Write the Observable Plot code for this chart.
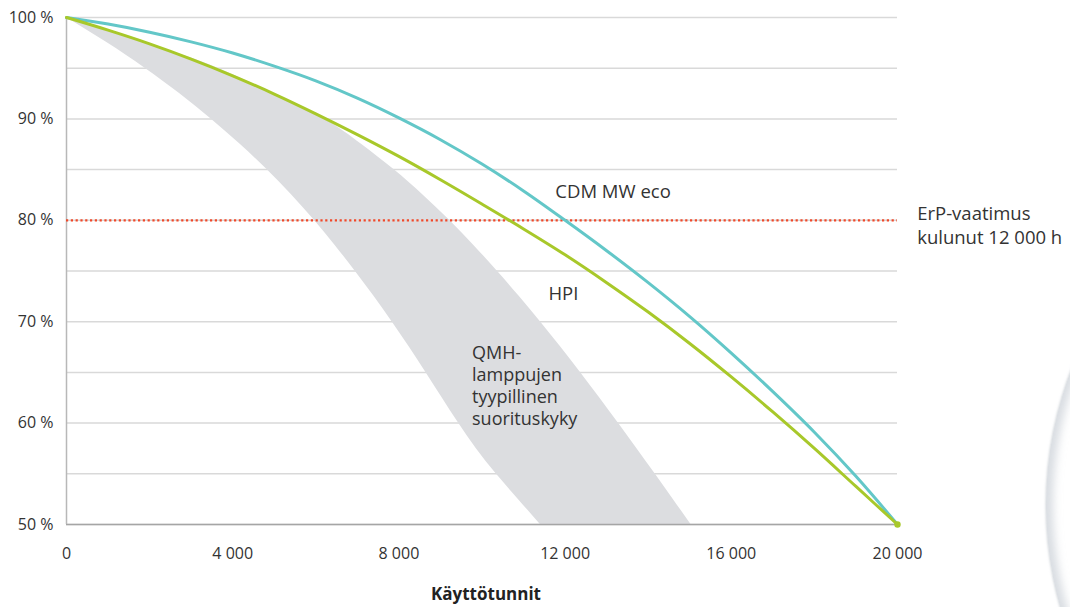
<!DOCTYPE html>
<html><head><meta charset="utf-8">
<script src="https://cdn.jsdelivr.net/npm/d3@7"></script>
<script src="https://cdn.jsdelivr.net/npm/@observablehq/plot@0.6"></script>
<style>
html,body{margin:0;padding:0;background:#fff;}
body{width:1070px;height:607px;overflow:hidden;position:relative;font-family:"Open Sans",sans-serif;}
#lamp{position:absolute;left:1046px;top:130px;width:750px;height:750px;border-radius:50%;background:#fff;
  box-shadow: inset 7px 0 9px rgba(185,193,202,0.55), -1px 0 2px rgba(205,210,215,0.6);}
#chart{position:absolute;left:0;top:0;}
</style></head><body>
<div id="lamp"></div><div id="chart"></div>
<script>
// Operating hours (x) and lumen maintenance (%)
const hours = [0,1000,2000,3000,4000,5000,6000,7000,8000,9000,10000,11000,12000,13000,14000,15000,16000,17000,18000,19000,20000];
const cdmMwEco = [100,99.35,98.55,97.6,96.5,95.2,93.75,92.05,90.1,87.95,85.55,82.9,80.0,77.0,73.85,70.5,66.9,63.1,59.1,54.75,50];
const hpi = [100,98.75,97.4,95.9,94.25,92.45,90.5,88.45,86.3,84.0,81.6,79.15,76.6,73.85,70.95,67.85,64.55,61.1,57.5,53.75,50];

// QMH typical performance band: hours at which each edge reaches a given level
const bandLevels = [100,97.5,95,92.5,90,87.5,85,82.5,80,77.5,75,72.5,70,67.5,65,62.5,60,57.5,55,52.5,50];
const bandLowerHours = [0,980,1890,2720,3480,4180,4825,5420,5965,6470,6945,7400,7835,8250,8650,9040,9435,9860,10340,10870,11404];
const bandUpperHours = [0,1900,3650,4950,6200,7100,7880,8580,9220,9810,10365,10895,11405,11895,12370,12830,13280,13725,14165,14600,15030];

const erpLevel = 80;
const xTicks = [0,4000,8000,12000,16000,20000];
const yTicks = [50,60,70,80,90,100];
const gridLevels = [50,55,60,65,70,75,80,85,90,95,100];

const seriesLabels = ["CDM MW eco","HPI"];
const seriesLabelHours = [11765,11600];
const seriesLabelLevels = [83.45,73.41];
const bandLabel = "QMH-\nlamppujen\ntyypillinen\nsuorituskyky";
const bandLabelHour = 9760;
const bandLabelLevel = 67.82;
const erpLabel = "ErP-vaatimus\nkulunut 12 000 h";
const erpLabelHour = 20474;
const erpLabelLevel = 81.64;
const xTitle = "Käyttötunnit";

const fmt = d => d3.format(",")(d).replace(/,/g, " ");
const idx = a => a.map((_, i) => i);
const teal = "#63c7c8", green = "#a8c82a", textColor = "#333";

const chart = Plot.plot({
  width: 1070, height: 607,
  marginLeft: 66, marginRight: 173, marginTop: 17, marginBottom: 83,
  style: {fontFamily: "'Open Sans', sans-serif", fontSize: "16px", color: textColor, background: "transparent", overflow: "visible"},
  x: {domain: [0, 20000]},
  y: {domain: [50, 100]},
  marks: [
    Plot.ruleY(gridLevels, {stroke: "#d9d9d9", strokeWidth: 1.5}),
    Plot.area(idx(bandLevels), {x1: i => bandLowerHours[i], y1: i => bandLevels[i], x2: i => bandUpperHours[i], y2: i => bandLevels[i],
      fill: "#dcdde0", curve: "natural"}),
    Plot.ruleY([50], {stroke: "#a5a5a5", strokeWidth: 1.5}),
    Plot.ruleX([0], {stroke: "#b8b8b8", strokeWidth: 1.5}),
    Plot.ruleY([erpLevel], {stroke: "#f0492a", strokeWidth: 2.2, strokeDasharray: "2.2,2.6"}),
    Plot.line(idx(hours), {x: i => hours[i], y: i => cdmMwEco[i], stroke: teal, strokeWidth: 3, curve: "monotone-x", strokeLinecap: "round"}),
    Plot.line(idx(hours), {x: i => hours[i], y: i => hpi[i], stroke: green, strokeWidth: 3, curve: "monotone-x", strokeLinecap: "round"}),
    Plot.dot([hours.length - 1], {x: i => hours[i], y: i => hpi[i], r: 3.2, fill: green, stroke: "none"}),
    Plot.axisX({ticks: xTicks, tickSize: 0, tickPadding: 23, tickFormat: fmt, label: null, fill: textColor}),
    Plot.axisY({ticks: yTicks, tickSize: 0, tickPadding: 13, tickFormat: d => d + " %", label: null, fill: textColor}),
    Plot.text(idx(seriesLabels), {x: i => seriesLabelHours[i], y: i => seriesLabelLevels[i], text: i => seriesLabels[i],
      textAnchor: "start", lineAnchor: "top", fontSize: 18.5, fill: textColor}),
    Plot.text([bandLabel], {x: bandLabelHour, y: bandLabelLevel, text: d => d, textAnchor: "start", lineAnchor: "top",
      fontSize: 18, lineHeight: 1.22, fill: textColor}),
    Plot.text([erpLabel], {x: erpLabelHour, y: erpLabelLevel, text: d => d, textAnchor: "start", lineAnchor: "top",
      fontSize: 18.5, lineHeight: 1.28, fill: textColor}),
    Plot.text([xTitle], {frameAnchor: "bottom", dy: 63, dx: 4, lineAnchor: "top", text: d => d, fontSize: 17, fontWeight: "bold", fill: "#222"})
  ]
});
document.getElementById("chart").appendChild(chart);
</script></body></html>
